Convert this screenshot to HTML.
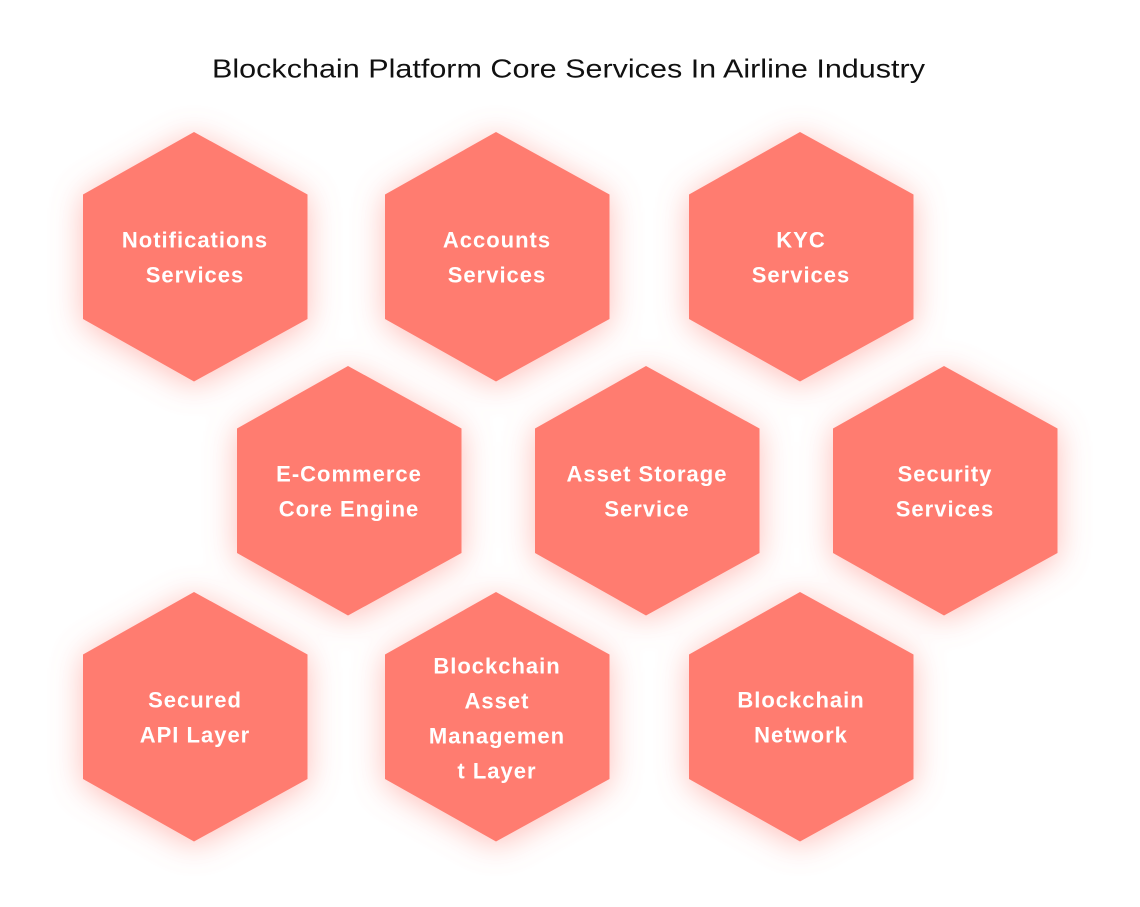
<!DOCTYPE html>
<html>
<head>
<meta charset="utf-8">
<style>
  html,body{margin:0;padding:0;background:#fff;}
  svg{display:block;}
  .lbl{font-family:"Liberation Sans",sans-serif;font-weight:bold;font-size:22px;fill:#fff;letter-spacing:1px;}
  .title{font-family:"Liberation Sans",sans-serif;font-size:26px;fill:#111;}
</style>
</head>
<body>
<svg width="1140" height="907" viewBox="0 0 1140 907" xmlns="http://www.w3.org/2000/svg">
  <defs>
    <filter id="glow" x="-40%" y="-40%" width="180%" height="180%">
      <feGaussianBlur in="SourceAlpha" stdDeviation="16" result="b"/>
      <feOffset dx="0" dy="4" result="o"/>
      <feFlood flood-color="#ff7b6f" flood-opacity="0.5"/>
      <feComposite in2="o" operator="in" result="s"/>
      <feMerge><feMergeNode in="s"/><feMergeNode in="SourceGraphic"/></feMerge>
    </filter>
    <polygon id="hex" points="111,0 224.5,62.5 224.5,187 111,249.5 0,187 0,62.5" fill="#ff7b6f"/>
  </defs>
  <rect width="1140" height="907" fill="#fff"/>

  <text class="title" x="212" y="77.5" textLength="713" lengthAdjust="spacingAndGlyphs">Blockchain Platform Core Services In Airline Industry</text>

  <g filter="url(#glow)">
    <use href="#hex" x="83" y="132"/>
    <use href="#hex" x="385" y="132"/>
    <use href="#hex" x="689" y="132"/>
    <use href="#hex" x="237" y="366"/>
    <use href="#hex" x="535" y="366"/>
    <use href="#hex" x="833" y="366"/>
    <use href="#hex" x="83" y="592"/>
    <use href="#hex" x="385" y="592"/>
    <use href="#hex" x="689" y="592"/>
  </g>

  <g text-anchor="middle">
    <text class="lbl" x="195" y="247.5">Notifications</text>
    <text class="lbl" x="195" y="282.5">Services</text>

    <text class="lbl" x="497" y="247.5">Accounts</text>
    <text class="lbl" x="497" y="282.5">Services</text>

    <text class="lbl" x="801" y="247.5">KYC</text>
    <text class="lbl" x="801" y="282.5">Services</text>

    <text class="lbl" x="349" y="481.5">E-Commerce</text>
    <text class="lbl" x="349" y="516.5">Core Engine</text>

    <text class="lbl" x="647" y="481.5">Asset Storage</text>
    <text class="lbl" x="647" y="516.5">Service</text>

    <text class="lbl" x="945" y="481.5">Security</text>
    <text class="lbl" x="945" y="516.5">Services</text>

    <text class="lbl" x="195" y="707.5">Secured</text>
    <text class="lbl" x="195" y="742.5">API Layer</text>

    <text class="lbl" x="497" y="673.3">Blockchain</text>
    <text class="lbl" x="497" y="708.3">Asset</text>
    <text class="lbl" x="497" y="743.3">Managemen</text>
    <text class="lbl" x="497" y="778.3">t Layer</text>

    <text class="lbl" x="801" y="707.5">Blockchain</text>
    <text class="lbl" x="801" y="742.5">Network</text>
  </g>
</svg>
</body>
</html>
